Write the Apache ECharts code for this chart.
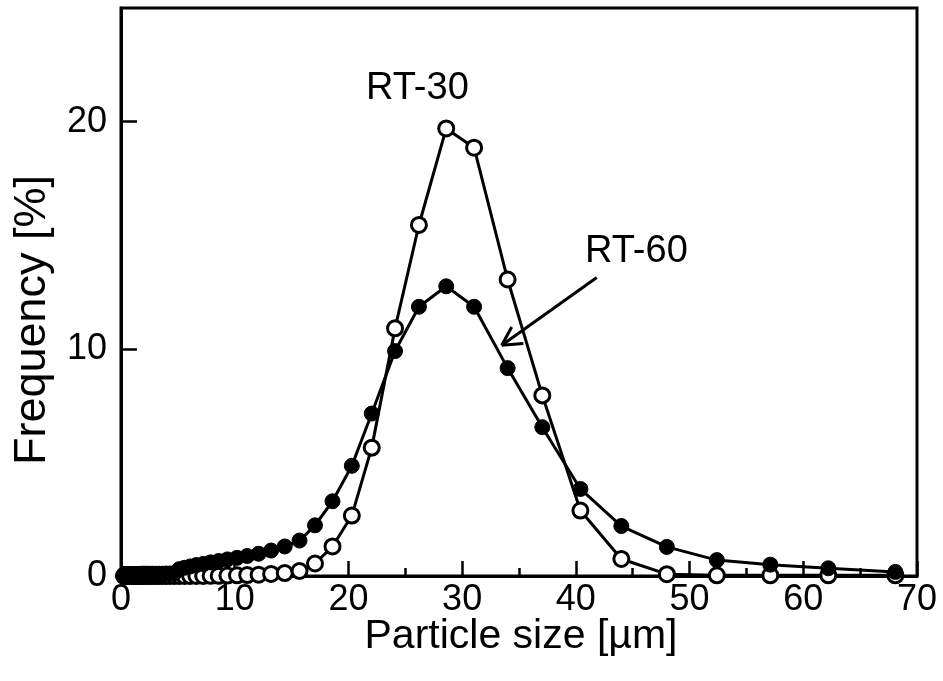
<!DOCTYPE html>
<html>
<head>
<meta charset="utf-8">
<script src="https://cdn.jsdelivr.net/npm/echarts@6/dist/echarts.min.js"></script>
<style>
html,body{margin:0;padding:0;background:#fff;}
#chart{width:943px;height:681px;}
</style>
</head>
<body>
<div id="chart"></div>
<script>
// Particle size bins [µm]
var sizes = [0.27,0.30,0.32,0.35,0.38,0.42,0.46,0.50,0.54,0.59,0.65,0.70,0.77,0.84,0.91,0.99,1.08,1.18,1.29,1.40,1.53,1.67,1.82,1.98,2.16,2.36,2.57,2.80,3.05,3.33,3.63,3.95,4.31,4.70,5.12,5.58,6.08,6.63,7.23,7.88,8.59,9.36,10.2,11.1,12.1,13.2,14.4,15.7,17.06,18.6,20.3,22.05,24.1,26.2,28.6,31.05,34.0,37.05,40.4,44.0,48.0,52.4,57.1,62.2,68.1];
// Frequency [%] RT-30 (open circles)
var rt30 = [0,0,0,0,0,0,0,0,0,0,0,0,0,0,0,0,0,0,0,0,0,0,0,0,0,0,0,0,0,0,0,0,0,0,0,0,0,0,0,0.01,0.01,0.02,0.03,0.04,0.06,0.09,0.13,0.22,0.55,1.3,2.66,5.65,10.9,15.45,19.7,18.85,13.05,7.95,2.88,0.75,0.08,0.03,0.03,0.03,0.03];
// Frequency [%] RT-60 (filled circles)
var rt60 = [0.08,0.08,0.08,0.08,0.08,0.08,0.08,0.08,0.08,0.08,0.08,0.08,0.08,0.08,0.08,0.08,0.09,0.09,0.09,0.09,0.09,0.09,0.1,0.1,0.1,0.1,0.1,0.1,0.1,0.1,0.1,0.11,0.11,0.12,0.3,0.36,0.42,0.48,0.53,0.6,0.66,0.73,0.8,0.88,0.98,1.12,1.3,1.56,2.23,3.29,4.85,7.15,9.9,11.85,12.75,11.85,9.15,6.55,3.83,2.2,1.28,0.7,0.5,0.34,0.18];
var xTicks = [0,10,20,30,40,50,60,70];
var yTicks = [0,10,20];
// annotation arrow (data units)
var arrowLine = [[41.84,13.14],[33.48,10.16]];
var arrowArm1 = [[33.48,10.16],[34.36,10.96]];
var arrowArm2 = [[33.48,10.16],[35.38,10.23]];

function pairs(xs, ys){ return xs.map(function(x,i){ return [x, ys[i]]; }); }

var font = '"Liberation Sans", Arial, sans-serif';
var chart = echarts.init(document.getElementById('chart'), null, {renderer:'canvas'});
var lineSeg = function(a){ return [{coord:a[0], symbol:'none'},{coord:a[1], symbol:'none'}]; };
chart.setOption({
  animation:false,
  backgroundColor:'#fff',
  grid:{left:121, top:8, right:26, bottom:105, show:true, borderColor:'#000', borderWidth:3, backgroundColor:'transparent'},
  xAxis:{
    type:'value', min:0, max:70, interval:10,
    axisLine:{show:true, onZero:false, lineStyle:{color:'#000', width:3}},
    axisTick:{show:true, inside:true, length:15, lineStyle:{color:'#000', width:2.5}},
    minorTick:{show:true, splitNumber:2, length:8, lineStyle:{color:'#000', width:2.5}},
    axisLabel:{fontFamily:font, fontSize:36, color:'#000', margin:6,
      formatter:function(v){ return xTicks.indexOf(v)>=0 ? String(v) : ''; }},
    splitLine:{show:false}
  },
  yAxis:{
    type:'value', min:0, max:25, interval:10,
    axisLine:{show:true, onZero:false, lineStyle:{color:'#000', width:3}},
    axisTick:{show:true, inside:true, length:16, lineStyle:{color:'#000', width:2.5}},
    axisLabel:{fontFamily:font, fontSize:36, color:'#000', margin:14, showMaxLabel:false,
      formatter:function(v){ return yTicks.indexOf(v)>=0 ? String(v) : ''; }},
    splitLine:{show:false}
  },
  series:[
    {
      name:'RT-30', type:'line', data:pairs(sizes, rt30), z:2,
      symbol:'circle', symbolSize:15, showAllSymbol:true,
      lineStyle:{color:'#000', width:3},
      itemStyle:{color:'#fff', borderColor:'#000', borderWidth:3},
      clip:false
    },
    {
      name:'RT-60', type:'line', data:pairs(sizes, rt60), z:3,
      symbol:'circle', symbolSize:15, showAllSymbol:true,
      lineStyle:{color:'#000', width:3},
      itemStyle:{color:'#000', borderColor:'#000', borderWidth:1},
      clip:false,
      markLine:{
        silent:true, symbol:'none', animation:false,
        lineStyle:{color:'#000', width:3, type:'solid'},
        label:{show:false},
        data:[lineSeg(arrowLine), lineSeg(arrowArm1), lineSeg(arrowArm2)]
      }
    }
  ],
  graphic:[
    {type:'text', left:366, top:70, style:{text:'RT-30', font:'38px "Liberation Sans", Arial, sans-serif', fill:'#000'}},
    {type:'text', left:585, top:233, style:{text:'RT-60', font:'38px "Liberation Sans", Arial, sans-serif', fill:'#000'}},
    {type:'text', x:521, y:637, style:{text:'Particle size [µm]', font:'41px "Liberation Sans", Arial, sans-serif', fill:'#000', textAlign:'center', textVerticalAlign:'middle'}},
    {type:'text', x:33, y:320, rotation:Math.PI/2, style:{text:'Frequency [%]', font:'45px "Liberation Sans", Arial, sans-serif', fill:'#000', textAlign:'center', textVerticalAlign:'middle'}}
  ]
});
</script>
</body>
</html>
